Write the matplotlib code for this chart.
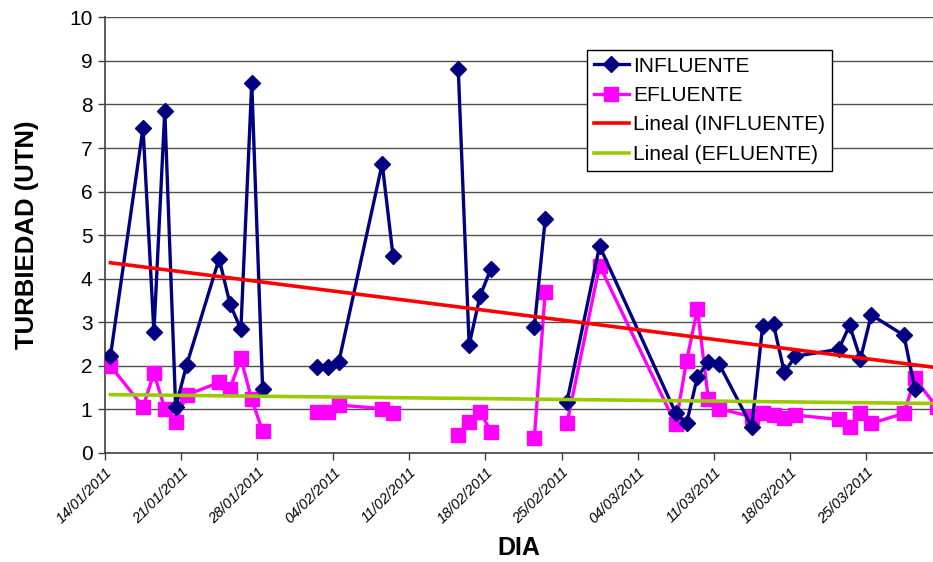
import matplotlib
matplotlib.use("Agg")
import matplotlib.pyplot as plt
import numpy as np
import pandas as pd

plt.rcParams['font.family'] = ['Liberation Sans', 'DejaVu Sans']

fechas = ["14/01/2011", "17/01/2011", "18/01/2011", "19/01/2011", "20/01/2011", "21/01/2011",
          "24/01/2011", "25/01/2011", "26/01/2011", "27/01/2011", "28/01/2011", "31/01/2011",
          "02/02/2011", "03/02/2011", "04/02/2011", "08/02/2011", "09/02/2011", "11/02/2011",
          "15/02/2011", "16/02/2011", "17/02/2011", "18/02/2011", "21/02/2011",
          "22/02/2011", "23/02/2011", "24/02/2011", "25/02/2011", "28/02/2011",
          "07/03/2011", "08/03/2011", "09/03/2011", "10/03/2011", "11/03/2011",
          "14/03/2011", "15/03/2011", "16/03/2011", "17/03/2011", "18/03/2011",
          "22/03/2011", "23/03/2011", "24/03/2011", "25/03/2011", "28/03/2011",
          "29/03/2011", "31/03/2011"]

influente = [2.22, 7.46, 2.77, 7.86, 1.05, 2.01,
             4.46, 3.42, 2.84, 8.49, 1.48, np.nan,
             1.98, 1.98, 2.08, 6.64, 4.52, np.nan,
             8.81, 2.48, 3.60, 4.23, np.nan,
             2.90, 5.37, np.nan, 1.18, 4.75,
             0.92, 0.68, 1.75, 2.09, 2.04,
             0.60, 2.91, 2.95, 1.85, 2.22,
             2.38, 2.93, 2.16, 3.17, 2.70,
             1.48, np.nan]

efluente = [2.00, 1.06, 1.83, 1.02, 0.72, 1.33,
            1.62, 1.48, 2.17, 1.23, 0.50, np.nan,
            0.95, 0.93, 1.10, 1.02, 0.91, np.nan,
            0.41, 0.72, 0.95, 0.49, np.nan,
            0.35, 3.70, np.nan, 0.68, 4.30,
            0.66, 2.11, 3.30, 1.25, 1.02,
            0.83, 0.92, 0.87, 0.80, 0.87,
            0.77, 0.60, 0.91, 0.68, 0.91,
            1.71, 1.06]

tick_labels = ["14/01/2011", "21/01/2011", "28/01/2011", "04/02/2011", "11/02/2011",
               "18/02/2011", "25/02/2011", "04/03/2011", "11/03/2011", "18/03/2011",
               "25/03/2011"]

start = pd.to_datetime("14/01/2011", format="%d/%m/%Y")
dias = np.array([(pd.to_datetime(f, format="%d/%m/%Y") - start).days for f in fechas], float)
xpos = dias + 0.5
tick_pos = np.array([(pd.to_datetime(f, format="%d/%m/%Y") - start).days for f in tick_labels], float)

inf = np.array(influente, float)
efl = np.array(efluente, float)

fig = plt.figure(figsize=(9.33, 5.62), dpi=100)
ax = fig.add_axes([105/933, 1-453/562, 1-105/933, (453-17.3)/562])

for v in range(0, 11):
    ax.axhline(v, color='#505050', lw=1.0, zorder=0)

navy = '#000080'
mag = '#FF00FF'
ax.plot(xpos, inf, color=navy, lw=2.4, marker='D', ms=8.5, mec=navy, mfc=navy, label='INFLUENTE', zorder=4)
ax.plot(xpos, efl, color=mag, lw=2.4, marker='s', ms=9.5, mec=mag, mfc=mag, label='EFLUENTE', zorder=3)

m_i = ~np.isnan(inf)
m_e = ~np.isnan(efl)
pi = np.polyfit(xpos[m_i], inf[m_i], 1)
pe = np.polyfit(xpos[m_e], efl[m_e], 1)
xt = np.array([xpos[0], xpos[-1]])
ax.plot(xt, np.polyval(pi, xt), color='#FF0000', lw=2.6, label='Lineal (INFLUENTE)', zorder=5)
ax.plot(xt, np.polyval(pe, xt), color='#99CC00', lw=2.6, label='Lineal (EFLUENTE)', zorder=5)

ax.set_xlim(0, (933-105)/10.87)
ax.set_ylim(0, 10)
ax.set_yticks(range(0, 11))
ax.set_yticklabels([str(v) for v in range(0, 11)], fontsize=15)
ax.set_xticks(tick_pos)
ax.set_xticklabels(tick_labels, rotation=45, ha='right', rotation_mode='anchor',
                   fontsize=10.5, style='italic')
ax.tick_params(axis='both', direction='out', length=5, width=1, color='#404040')
ax.tick_params(axis='x', pad=4)
ax.tick_params(axis='y', pad=4)
for s in ['top', 'right']:
    ax.spines[s].set_visible(False)
for s in ['left', 'bottom']:
    ax.spines[s].set_color('#404040')
    ax.spines[s].set_linewidth(1.2)

ax.set_ylabel('TURBIEDAD (UTN)', fontsize=18.5, fontweight='bold', labelpad=22)
ax.set_xlabel('DIA', fontsize=18, fontweight='bold', labelpad=7)

leg = ax.legend(loc='upper left', bbox_to_anchor=((587-105)/828, (453-50)/435.7),
                borderaxespad=0, fontsize=15, frameon=True, fancybox=False,
                edgecolor='black', framealpha=1, handlelength=1.7, handletextpad=0.2,
                labelspacing=0.5, borderpad=0.32)
leg.get_frame().set_linewidth(1.0)

fig.savefig('out.png', dpi=100)
